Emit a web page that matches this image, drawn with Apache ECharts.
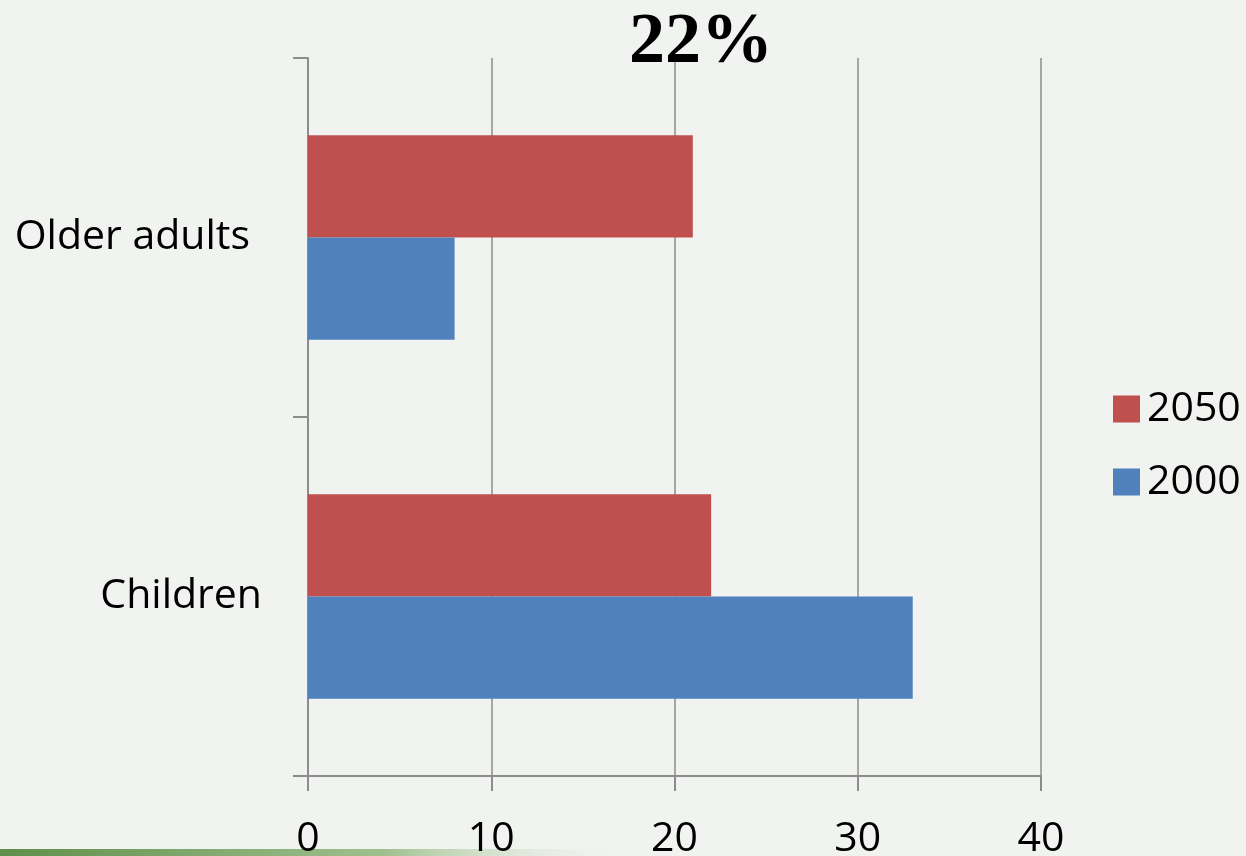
<!DOCTYPE html>
<html>
<head>
<meta charset="utf-8">
<script src="https://cdn.jsdelivr.net/npm/echarts@6/dist/echarts.min.js"></script>
<style>
  html, body { margin: 0; padding: 0; background: #f1f3f0; }
  #chart { width: 1246px; height: 856px; }
</style>
</head>
<body>
<div id="chart"></div>
<script>
// Age groups (bottom to top) and share of population, in percent
const categories = ['Children', 'Older adults'];
const share2050 = [22, 21];
const share2000 = [33, 8];
const seriesNames = ['2050', '2000'];
const titleText = '22%';

const chart = echarts.init(document.getElementById('chart'));

const axisGray = '#8c8c8c';
const labelFont = '"Open Sans", "Noto Sans", sans-serif';

chart.setOption({
  backgroundColor: '#f1f3f0',
  animation: false,
  title: {
    text: titleText,
    left: 696,
    top: 2,
    textAlign: 'center',
    textStyle: {
      fontFamily: '"Liberation Serif", "DejaVu Serif", serif',
      fontWeight: 'bold',
      fontSize: 72,
      color: '#000'
    }
  },
  legend: {
    orient: 'vertical',
    left: 1108,
    top: 383,
    itemWidth: 27,
    itemHeight: 27,
    itemGap: 31,
    icon: 'rect',
    data: seriesNames,
    textStyle: {
      fontFamily: labelFont,
      fontSize: 41,
      lineHeight: 42,
      color: '#000',
      padding: [0, 0, 0, 2]
    }
  },
  grid: {
    left: 308,
    right: 205,
    top: 58,
    bottom: 80,
    containLabel: false,
    outerBoundsMode: 'none'
  },
  xAxis: {
    type: 'value',
    min: 0,
    max: 40,
    interval: 10,
    axisLine: { show: true, lineStyle: { color: axisGray, width: 2 } },
    axisTick: { show: true, length: 15, lineStyle: { color: axisGray, width: 2 } },
    axisLabel: {
      margin: 43,
      fontFamily: labelFont,
      fontSize: 41,
      color: '#000'
    },
    splitLine: { show: true, lineStyle: { color: axisGray, width: 1.5 } }
  },
  yAxis: {
    type: 'category',
    data: categories,
    axisLine: { show: true, lineStyle: { color: axisGray, width: 2 } },
    axisTick: { show: true, length: 15, lineStyle: { color: axisGray, width: 2 } },
    axisLabel: {
      margin: 46,
      fontFamily: labelFont,
      fontSize: 41,
      color: '#000',
      formatter: function (value) {
        return value === 'Older adults' ? '{shift|' + value + '}' : value;
      },
      rich: {
        shift: {
          fontFamily: labelFont,
          fontSize: 41,
          color: '#000',
          padding: [0, 12, 0, 0]
        }
      }
    }
  },
  series: [
    {
      name: seriesNames[0],
      type: 'bar',
      data: share2050,
      barGap: '0%',
      barCategoryGap: '43%',
      itemStyle: { color: '#C0504D' }
    },
    {
      name: seriesNames[1],
      type: 'bar',
      data: share2000,
      barGap: '0%',
      barCategoryGap: '43%',
      itemStyle: { color: '#4F81BD' }
    }
  ],
  graphic: [
    {
      type: 'rect',
      left: 0,
      top: 849,
      shape: { width: 640, height: 7 },
      style: {
        fill: new echarts.graphic.LinearGradient(0, 0, 1, 0, [
          { offset: 0, color: '#5f8f4a' },
          { offset: 0.6, color: '#9fc08e' },
          { offset: 1, color: 'rgba(241,243,240,0)' }
        ])
      },
      z: -1
    }
  ]
});
</script>
</body>
</html>
